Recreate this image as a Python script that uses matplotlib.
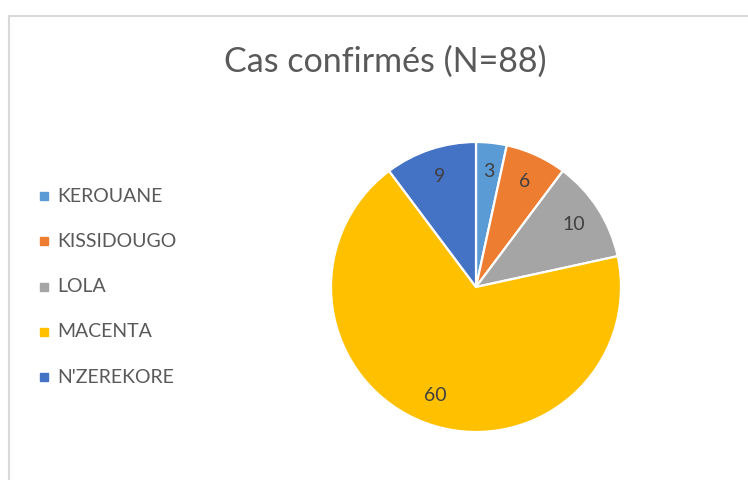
import matplotlib.pyplot as plt
from matplotlib.patches import Rectangle

plt.rcParams['font.family'] = ['Lato', 'DejaVu Sans']

regions = ["KEROUANE", "KISSIDOUGO", "LOLA", "MACENTA", "N'ZEREKORE"]
cases = [3, 6, 10, 60, 9]
colors = ["#5B9BD5", "#ED7D31", "#A5A5A5", "#FFC000", "#4472C4"]

fig = plt.figure(figsize=(7.48, 4.8), dpi=100)
ax = fig.add_axes([0, 0, 1, 1])

# chart frame (top and left edges visible)
ax.plot([9, 9, 748], [0, 464, 464], color="#D9D9D9", lw=1.5)

ax.text(385, 418, "Cas confirmés (N=88)", fontsize=24.5, color="#595959",
        ha='center', va='center')

wedges, texts = ax.pie(cases, colors=colors, startangle=90, counterclock=False,
                       center=(476, 193), radius=145, labels=[str(v) for v in cases],
                       labeldistance=0.8, frame=True,
                       wedgeprops=dict(edgecolor='white', linewidth=1.6),
                       textprops=dict(fontsize=14, color="#404040"))
for t in texts:
    t.set_ha('center')
    t.set_va('center')
ax.set_xlim(0, 748)
ax.set_ylim(0, 480)
ax.axis('off')

# legend
for i, (name, c) in enumerate(zip(regions, colors)):
    y = 480 - (196 + 45.3 * i)
    ax.add_patch(Rectangle((40, y - 4), 8, 8, color=c))
    ax.text(57, y, name, fontsize=14, color="#595959", ha='left', va='center')

fig.savefig("out.png", dpi=100)
